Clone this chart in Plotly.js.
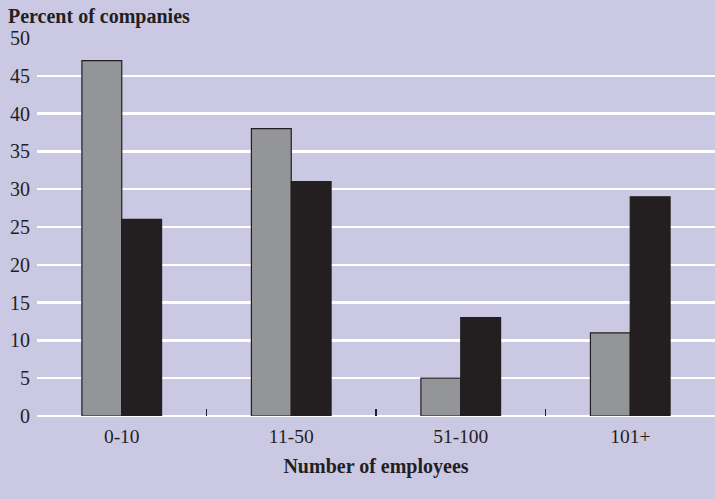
<!DOCTYPE html>
<html>
<head>
<meta charset="utf-8">
<script src="https://cdn.plot.ly/plotly-3.0.1.min.js"></script>
<style>html,body{margin:0;padding:0;background:#cbc8e4;}#chart{width:715px;height:499px;}</style>
</head>
<body>
<div id="chart"></div>
<script>
const categories = ["0-10", "11-50", "51-100", "101+"];
const seriesGray = [47, 38, 5, 11];
const seriesBlack = [26, 31, 13, 29];
const yTicks = [0, 5, 10, 15, 20, 25, 30, 35, 40, 45, 50];
const boundaryTicks = [0.5, 1.5, 2.5];

const fontFam = "Liberation Serif, DejaVu Serif, serif";
const dark = "#231f20";

const traces = [
  {type: "bar", x: categories, y: seriesGray, name: "Series 1",
   marker: {color: "#939598", line: {color: dark, width: 1.2}}},
  {type: "bar", x: categories, y: seriesBlack, name: "Series 2",
   marker: {color: "#231f20", line: {color: dark, width: 1.2}}},
  {type: "scatter", x: boundaryTicks, y: [0, 0, 0], xaxis: "x2", yaxis: "y",
   mode: "none", hoverinfo: "skip", showlegend: false}
];

const layout = {
  width: 715, height: 499,
  paper_bgcolor: "#cbc8e4", plot_bgcolor: "#cbc8e4",
  margin: {l: 37, r: 0, t: 38, b: 83},
  showlegend: false,
  barmode: "group", bargap: 0.53, bargroupgap: 0,
  font: {family: fontFam, color: dark, size: 19},
  title: {text: "<b>Percent of companies</b>", x: 8 / 715, xanchor: "left", xref: "container",
          y: 1 - 16 / 499, yanchor: "middle", yref: "container",
          font: {family: fontFam, size: 20, color: dark}},
  xaxis: {type: "category", range: [-0.5, 3.5], showgrid: false, zeroline: false,
          showline: false, ticks: "", ticklabelstandoff: 6, tickfont: {size: 19.5, color: dark},
          title: {text: "<b>Number of employees</b>", font: {size: 20, color: dark}, standoff: 13}},
  xaxis2: {overlaying: "x", anchor: "y", side: "bottom", range: [-0.5, 3.5],
           tickvals: boundaryTicks, showticklabels: false, ticks: "inside", ticklen: 7,
           tickwidth: 1.5, tickcolor: dark, showgrid: false, zeroline: false, showline: false},
  yaxis: {range: [0, 50], tickvals: yTicks, showgrid: true, gridcolor: "#ffffff", gridwidth: 2.5,
          zeroline: true, zerolinecolor: "#ffffff", zerolinewidth: 2.5,
          ticks: "", ticklabelstandoff: 6, tickfont: {size: 20, color: dark}, fixedrange: true}
};

Plotly.newPlot("chart", traces, layout, {displayModeBar: false, staticPlot: true});
</script>
</body>
</html>
